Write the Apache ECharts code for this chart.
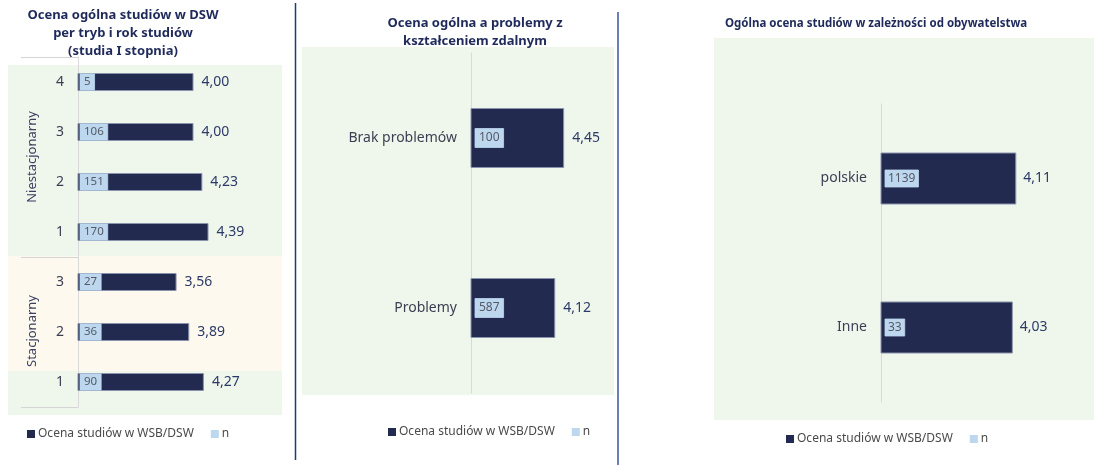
<!DOCTYPE html>
<html>
<head>
<meta charset="utf-8">
<script src="https://cdn.jsdelivr.net/npm/echarts@6/dist/echarts.min.js"></script>
<style>
  html, body { margin: 0; padding: 0; background: #fff; }
  #chart { width: 1094px; height: 465px; }
</style>
</head>
<body>
<div id="chart"></div>
<script>
// panel 1: tryb i rok studiow
var tryb = ['Niestacjonarny', 'Niestacjonarny', 'Niestacjonarny', 'Niestacjonarny', 'Stacjonarny', 'Stacjonarny', 'Stacjonarny'];
var rok = ['4', '3', '2', '1', '3', '2', '1'];
var ocenaRok = [4.00, 4.00, 4.23, 4.39, 3.56, 3.89, 4.27];
var nRok = [5, 106, 151, 170, 27, 36, 90];

// panel 2: problemy z ksztalceniem zdalnym
var problemy = ['Brak problemów', 'Problemy'];
var ocenaProblemy = [4.45, 4.12];
var nProblemy = [100, 587];

// panel 3: obywatelstwo
var obywatelstwo = ['polskie', 'Inne'];
var ocenaObyw = [4.11, 4.03];
var nObyw = [1139, 33];

var NAME_OCENA = 'Ocena studiów w WSB/DSW';
var NAME_N = 'n';

var navy = '#232a4f';
var lightBlue = '#bdd7ee';
var font = '"Noto Sans", sans-serif';

function fmt(v) { return v.toFixed(2).replace('.', ','); }

var rokCats = rok.map(function (r, i) { return tryb[i] + '|' + r; });

function yAxis(idx, cats) {
    return {
        type: 'category', gridIndex: idx, data: cats, inverse: true,
        axisLine: { show: true, lineStyle: { color: '#d9d9d9', width: 1 } },
        axisTick: { show: false },
        axisLabel: {
            margin: 14, fontSize: 14, color: '#3c3f52', fontFamily: font,
            formatter: function (v) { return v.indexOf('|') >= 0 ? v.split('|')[1] : v; }
        },
        splitLine: { show: false }
    };
}
function xAxis(idx) {
    return { type: 'value', gridIndex: idx, min: 1, max: 5, show: false };
}
function xAxisN(idx) {
    return { type: 'value', gridIndex: idx, min: 0, max: 10000000, show: false };
}
function ocenaSeries(idx, data, bw, dist) {
    return {
        name: NAME_OCENA, type: 'bar', xAxisIndex: idx * 2, yAxisIndex: idx,
        data: data, barWidth: bw, barGap: '-100%',
        itemStyle: { color: navy, borderColor: '#8a93ad', borderWidth: 1 },
        label: {
            show: true, position: 'right', distance: dist,
            fontSize: 14, color: '#2c3a68', fontFamily: font,
            formatter: function (p) { return fmt(p.value); }
        },
        silent: true
    };
}
function nSeries(idx, data, bw, dist, pad, fs) {
    return {
        name: NAME_N, type: 'bar', xAxisIndex: idx * 2 + 1, yAxisIndex: idx,
        data: data, barWidth: bw, barGap: '-100%',
        itemStyle: { color: lightBlue },
        label: {
            show: true, position: 'insideLeft', distance: dist,
            fontSize: fs, lineHeight: fs + 1, color: '#555a66', fontFamily: font,
            backgroundColor: lightBlue, borderColor: '#9fb6cf', borderWidth: 0.5,
            padding: pad,
            formatter: function (p) { return String(p.value); }
        },
        silent: true
    };
}
function legend(left, top) {
    return {
        left: left, top: top, itemWidth: 8, itemHeight: 8, itemGap: 17,
        selectedMode: false, icon: 'rect',
        data: [NAME_OCENA, NAME_N],
        itemStyle: { borderWidth: 0 },
        textStyle: { fontSize: 12, color: '#4a4a4a', fontFamily: font, padding: [0, 0, 0, -2] }
    };
}

var titleStyle = { fontSize: 13, fontWeight: 'bold', fill: '#1f2a5a', fontFamily: font, align: 'center' };

var option = {
    animation: false,
    backgroundColor: '#fff',
    graphic: [
        // backgrounds
        { type: 'rect', z: -10, shape: { x: 8, y: 65, width: 274, height: 191 }, style: { fill: '#eff6ec' } },
        { type: 'rect', z: -10, shape: { x: 8, y: 256, width: 274, height: 115 }, style: { fill: '#fdf9ef' } },
        { type: 'rect', z: -10, shape: { x: 8, y: 371, width: 274, height: 44 }, style: { fill: '#eff6ec' } },
        { type: 'rect', z: -10, shape: { x: 302, y: 47, width: 312, height: 348 }, style: { fill: '#eff6ec' } },
        { type: 'rect', z: -10, shape: { x: 714, y: 38, width: 380, height: 382 }, style: { fill: '#eff6ec' } },
        // dividers
        { type: 'line', shape: { x1: 295.5, y1: 3, x2: 295.5, y2: 460 }, style: { stroke: '#1f3b73', lineWidth: 1.5 } },
        { type: 'line', shape: { x1: 618, y1: 12, x2: 618, y2: 465 }, style: { stroke: '#6a7fb8', lineWidth: 2 } },
        // group separators, panel 1
        { type: 'line', shape: { x1: 21, y1: 57.5, x2: 78, y2: 57.5 }, style: { stroke: '#d4d4d4', lineWidth: 1 } },
        { type: 'line', shape: { x1: 21, y1: 257.5, x2: 78, y2: 257.5 }, style: { stroke: '#d4d4d4', lineWidth: 1 } },
        { type: 'line', shape: { x1: 21, y1: 407.5, x2: 78, y2: 407.5 }, style: { stroke: '#d4d4d4', lineWidth: 1 } },
        { type: 'text', x: 32, y: 157, rotation: Math.PI / 2,
          style: { text: 'Niestacjonarny', fontSize: 13, fill: '#3c4160', fontFamily: font, align: 'center', verticalAlign: 'middle' } },
        { type: 'text', x: 32, y: 331, rotation: Math.PI / 2,
          style: { text: 'Stacjonarny', fontSize: 13, fill: '#3c4160', fontFamily: font, align: 'center', verticalAlign: 'middle' } },
        // titles
        { type: 'text', x: 123, y: 6,
          style: Object.assign({}, titleStyle, { text: 'Ocena ogólna studiów w DSW\nper tryb i rok studiów\n(studia I stopnia)', lineHeight: 18 }) },
        { type: 'text', x: 475, y: 14,
          style: Object.assign({}, titleStyle, { text: 'Ocena ogólna a problemy z\nkształceniem zdalnym', lineHeight: 18 }) },
        { type: 'text', x: 725, y: 18,
          style: Object.assign({}, titleStyle, { text: 'Ogólna ocena studiów w zależności od obywatelstwa', fontSize: 11.5, align: 'left' }) }
    ],
    legend: [legend(22, 423), legend(383, 421), legend(781, 428)],
    grid: [
        { left: 78, top: 57, width: 154, height: 350 },
        { left: 471, top: 53, width: 108, height: 340 },
        { left: 881, top: 104, width: 174, height: 298 }
    ],
    xAxis: [xAxis(0), xAxisN(0), xAxis(1), xAxisN(1), xAxis(2), xAxisN(2)],
    yAxis: [yAxis(0, rokCats), yAxis(1, problemy), yAxis(2, obywatelstwo)],
    series: [
        ocenaSeries(0, ocenaRok, 18, 8),
        nSeries(0, nRok, 18, 2, [2, 4], 11.5),
        ocenaSeries(1, ocenaProblemy, 60, 8),
        nSeries(1, nProblemy, 60, 4, [3, 4], 12),
        ocenaSeries(2, ocenaObyw, 52, 7),
        nSeries(2, nObyw, 52, 4, [2, 3], 12)
    ]
};

var myChart = echarts.init(document.getElementById('chart'));
myChart.setOption(option);
</script>
</body>
</html>
